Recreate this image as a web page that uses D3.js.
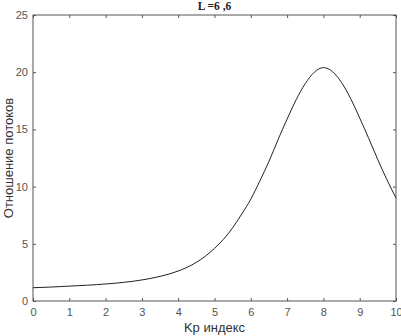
<!DOCTYPE html>
<html><head><meta charset="utf-8">
<script src="https://cdn.jsdelivr.net/npm/d3@7"></script>
<style>body{margin:0;background:#fff}svg{display:block}</style>
</head><body>
<script>
const kp = [0,0.25,0.5,0.75,1,1.25,1.5,1.75,2,2.25,2.5,2.75,3,3.25,3.5,3.75,4,4.25,4.5,4.75,5,5.25,5.5,5.75,6,6.25,6.5,6.75,7,7.25,7.5,7.75,8,8.25,8.5,8.75,9,9.25,9.5,9.75,10];
const ratio = [1.16,1.19,1.22,1.26,1.30,1.34,1.38,1.43,1.49,1.55,1.63,1.72,1.84,1.98,2.15,2.36,2.62,2.95,3.38,3.92,4.6,5.4,6.4,7.6,8.9,10.5,12.2,14.1,15.9,17.6,19.0,20.0,20.4,20.05,19.1,17.7,16.0,14.2,12.35,10.6,9.0];
const xTicks = [0,1,2,3,4,5,6,7,8,9,10];
const yTicks = [0,5,10,15,20,25];
const title = "L =6 ,6";
const xLabel = "Kp индекс";
const yLabel = "Отношение потоков";

const W=401,H=336, m={l:33,r:5,t:15,b:35};
const svg=d3.select("body").append("svg").attr("width",W).attr("height",H);
const x=d3.scaleLinear().domain([0,10]).range([m.l,W-m.r]);
const y=d3.scaleLinear().domain([0,25]).range([H-m.b,m.t]);
const axCol="#555";
const font="'Liberation Sans',Arial,sans-serif";

function style(g){g.select(".domain").remove();g.selectAll("line").attr("stroke",axCol);
  g.selectAll("text").attr("fill","#555").style("font-family",font).style("font-size","11px");}
svg.append("g").attr("transform",`translate(0,${H-m.b})`).call(d3.axisBottom(x).tickValues(xTicks).tickSize(-3).tickPadding(7)).call(style);
svg.append("g").attr("transform",`translate(0,${m.t})`).call(d3.axisTop(x).tickValues(xTicks).tickSize(-3).tickFormat("")).call(style);
svg.append("g").attr("transform",`translate(${m.l},0)`).call(d3.axisLeft(y).tickValues(yTicks).tickSize(-3).tickPadding(5)).call(style);
svg.append("g").attr("transform",`translate(${W-m.r},0)`).call(d3.axisRight(y).tickValues(yTicks).tickSize(-3).tickFormat("")).call(style);
svg.append("rect").attr("x",m.l).attr("y",m.t).attr("width",W-m.r-m.l).attr("height",H-m.b-m.t)
  .attr("fill","none").attr("stroke",axCol).attr("stroke-width",1);

const line=d3.line().x((d,i)=>x(kp[i])).y(d=>y(d)).curve(d3.curveNatural);
svg.append("path").datum(ratio).attr("d",line).attr("fill","none").attr("stroke","#222").attr("stroke-width",1);

svg.append("text").attr("x",(m.l+W-m.r)/2).attr("y",10).attr("text-anchor","middle")
  .style("font-family","'Liberation Serif','Times New Roman',serif").style("font-weight","bold").style("font-size","11.5px").attr("fill","#222").text(title);
svg.append("text").attr("x",(m.l+W-m.r)/2).attr("y",332).attr("text-anchor","middle")
  .style("font-family",font).style("font-size","13px").attr("fill","#333").text(xLabel);
svg.append("text").attr("transform",`translate(13,${(m.t+H-m.b)/2}) rotate(-90)`).attr("text-anchor","middle")
  .style("font-family",font).style("font-size","13px").attr("fill","#333").text(yLabel);
</script>
</body></html>
